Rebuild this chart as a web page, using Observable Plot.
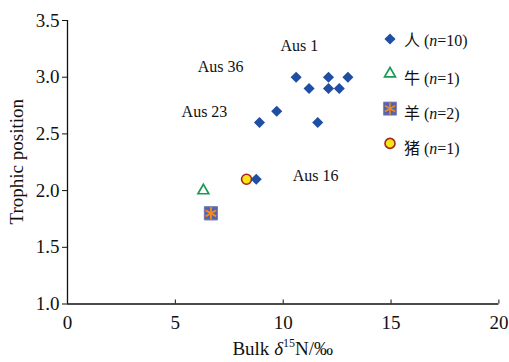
<!DOCTYPE html>
<html>
<head>
<meta charset="utf-8">
<script src="https://cdn.jsdelivr.net/npm/d3@7"></script>
<script src="https://cdn.jsdelivr.net/npm/@observablehq/plot@0.6"></script>
<style>
  body { margin: 0; background: #fff; }
  #wrap { position: relative; width: 509px; height: 362px; overflow: hidden;
          font-family: "Liberation Serif", "Noto Sans CJK SC", serif; color: #111; }
  #legend { position: absolute; left: 0; top: 0; pointer-events: none; }
</style>
</head>
<body>
<div id="wrap"></div>
<script>
// ---- data ----
const xTicks = [0, 5, 10, 15, 20];
const yTicks = [1.0, 1.5, 2.0, 2.5, 3.0, 3.5];

const humanX = [10.6, 11.2, 12.1, 12.1, 12.6, 13.0, 9.7, 8.9, 11.6, 8.75];
const humanY = [3.0, 2.9, 3.0, 2.9, 2.9, 3.0, 2.7, 2.6, 2.6, 2.1];
const cattleX = [6.3];
const cattleY = [2.0];
const sheepX = [6.65, 6.65];
const sheepY = [1.8, 1.8];
const pigX = [8.3];
const pigY = [2.1];

const annoText = ["Aus 1", "Aus 36", "Aus 23", "Aus 16"];
const annoX = [10.75, 7.1, 6.35, 11.5];
const annoY = [3.28, 3.09, 2.69, 2.13];

const legendNames = ["人", "牛", "羊", "猪"];
const legendN = [10, 1, 2, 1];

// ---- styles ----
const FONT = '"Liberation Serif", "Noto Sans CJK SC", serif';
const C = {
  human: "#1f4ea3",
  cattle: "#1a9a55",
  sheepFill: "#5563aa",
  sheepStar: "#f08a24",
  pigFill: "#f7e51a",
  pigStroke: "#a3261b",
  axis: "#111"
};

const pts = (xs, ys) => xs.map((x, i) => ({x, y: ys[i]}));
const annos = annoText.map((t, i) => ({t, x: annoX[i], y: annoY[i]}));

const plot = Plot.plot({
  width: 509,
  height: 362,
  marginLeft: 67,
  marginRight: 10.6,
  marginTop: 20,
  marginBottom: 58.5,
  style: {fontFamily: FONT, fontSize: "19px", background: "transparent", color: C.axis, overflow: "visible"},
  x: {domain: [0, 20]},
  y: {domain: [1, 3.5]},
  marks: [
    Plot.axisX({ticks: xTicks, tickFormat: d => String(d), tickSize: -4, tickPadding: 15, label: null, stroke: C.axis}),
    Plot.axisY({ticks: yTicks, tickFormat: d => d.toFixed(1), tickSize: 5, tickPadding: 3, label: null, stroke: C.axis}),
    Plot.ruleY([1], {stroke: C.axis, strokeWidth: 1.3}),
    Plot.ruleX([0], {stroke: C.axis, strokeWidth: 1.3}),
    Plot.text(annos, {x: "x", y: "y", text: "t", fontSize: 16, fill: "#111", textAnchor: "middle", lineAnchor: "middle"}),
    Plot.dot(pts(cattleX, cattleY), {x: "x", y: "y", symbol: "triangle2", r: 5.2, fill: "white", stroke: C.cattle, strokeWidth: 1.7}),
    Plot.dot(pts(sheepX, sheepY), {x: "x", y: "y", symbol: "square", r: 7.4, fill: C.sheepFill, stroke: "#7c84b8", strokeWidth: 0.8}),
    Plot.dot(pts(sheepX, sheepY), {x: "x", y: "y", symbol: "asterisk", r: 5.6, fill: "none", stroke: C.sheepStar, strokeWidth: 1.6}),
    Plot.dot(pts(pigX, pigY), {x: "x", y: "y", r: 5, fill: C.pigFill, stroke: C.pigStroke, strokeWidth: 1.6}),
    Plot.dot(pts(humanX, humanY), {x: "x", y: "y", symbol: "diamond2", r: 5, fill: C.human, stroke: "none"})
  ]
});

document.getElementById("wrap").appendChild(plot);

// ---- axis titles (rich text) ----
const svg = d3.select(plot);
const xs = plot.scale("x"), ys = plot.scale("y");
const xMid = (xs.range[0] + xs.range[1]) / 2;
const yMid = (ys.range[0] + ys.range[1]) / 2;

const xl = svg.append("text")
  .attr("x", xMid).attr("y", 355)
  .attr("text-anchor", "middle")
  .attr("font-family", FONT).attr("font-size", 19).attr("fill", "#111");
xl.append("tspan").text("Bulk ");
xl.append("tspan").attr("font-style", "italic").text("δ");
xl.append("tspan").attr("font-size", 12).attr("dy", -8).text("15");
xl.append("tspan").attr("dy", 8).text("N/‰");

svg.append("text")
  .attr("transform", `translate(23,${yMid}) rotate(-90)`)
  .attr("text-anchor", "middle")
  .attr("font-family", FONT).attr("font-size", 19).attr("fill", "#111")
  .text("Trophic position");

// ---- legend (HTML overlay with small SVG) ----
const lg = d3.select("#wrap").append("svg")
  .attr("id", "legend").attr("width", 509).attr("height", 362);
const markerX = 390, row0 = 39, rowGap = 34.8, textX = 404;
const area = r => Math.PI * r * r;
legendNames.forEach((name, i) => {
  const cy = row0 + i * rowGap;
  const g = lg.append("g").attr("transform", `translate(${markerX},${cy})`);
  if (i === 0) {
    g.append("path").attr("d", d3.symbol(d3.symbolDiamond2, area(5))()).attr("fill", C.human);
  } else if (i === 1) {
    g.append("path").attr("d", d3.symbol(d3.symbolTriangle2, area(5.2))())
      .attr("fill", "white").attr("stroke", C.cattle).attr("stroke-width", 1.7);
  } else if (i === 2) {
    g.append("path").attr("d", d3.symbol(d3.symbolSquare, area(7.4))())
      .attr("fill", C.sheepFill).attr("stroke", "#7c84b8").attr("stroke-width", 0.8);
    g.append("path").attr("d", d3.symbol(d3.symbolAsterisk, area(5.6))())
      .attr("fill", "none").attr("stroke", C.sheepStar).attr("stroke-width", 1.6);
  } else {
    g.append("circle").attr("r", 5).attr("fill", C.pigFill)
      .attr("stroke", C.pigStroke).attr("stroke-width", 1.6);
  }
  const t = lg.append("text")
    .attr("x", textX).attr("y", cy + (i === 0 ? 1 : 5))
    .attr("dy", "0.35em")
    .attr("font-family", FONT).attr("font-size", 16).attr("fill", "#111");
  t.append("tspan").text(name + " (");
  t.append("tspan").attr("font-style", "italic").text("n");
  t.append("tspan").text("=" + legendN[i] + ")");
});
</script>
</body>
</html>
